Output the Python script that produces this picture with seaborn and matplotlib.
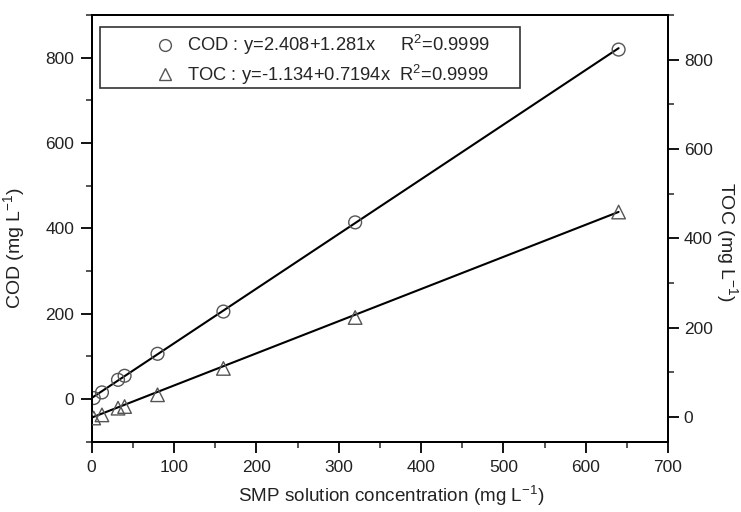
import numpy as np
import pandas as pd
import matplotlib
matplotlib.use("Agg")
import matplotlib.pyplot as plt
import seaborn as sns
from matplotlib.lines import Line2D
from matplotlib.patches import Rectangle
from matplotlib.ticker import MultipleLocator

# SMP dilution series
conc = [2.5, 12.5, 32, 40, 80, 160, 320, 640]
cod = [2.3, 15.5, 45, 54.5, 106, 205, 414, 819]
toc = [-2, 5, 20, 23.7, 50, 109, 223, 459]

# linear fits shown in the legend
cod_fit = (2.408, 1.281)
toc_fit = (-1.134, 0.7194)
fit_range = [0, 640]

cod_label = "COD : y=2.408+1.281x     R$^2$=0.9999"
toc_label = "TOC : y=-1.134+0.7194x  R$^2$=0.9999"

sns.set_style("ticks")
plt.rcParams['font.family'] = ['Liberation Sans', 'DejaVu Sans']
plt.rcParams['mathtext.fontset'] = 'custom'
plt.rcParams['mathtext.rm'] = 'Liberation Sans'
plt.rcParams['mathtext.it'] = 'Liberation Sans'
plt.rcParams['axes.unicode_minus'] = False

pts = pd.DataFrame({'conc': conc, 'cod': cod, 'toc': toc})
xf = np.array(fit_range, dtype=float)
fit = pd.DataFrame({'x': xf,
                    'cod': cod_fit[0] + cod_fit[1] * xf,
                    'toc': toc_fit[0] + toc_fit[1] * xf})

fig = plt.figure(figsize=(7.41, 5.12), dpi=100)
ax = fig.add_axes([0.1237, 0.1373, 0.7778, 0.8334])
ax2 = ax.twinx()

mk_col = '#555555'
sns.lineplot(data=fit, x='x', y='cod', ax=ax, color='black', lw=1.5, zorder=2)
sns.scatterplot(data=pts, x='conc', y='cod', ax=ax, marker='o', s=85,
                facecolor='none', edgecolor=mk_col, linewidth=1.0, zorder=3)
sns.lineplot(data=fit, x='x', y='toc', ax=ax2, color='black', lw=1.5, zorder=2)
sns.scatterplot(data=pts, x='conc', y='toc', ax=ax2, marker='^', s=95,
                facecolor='none', edgecolor=mk_col, linewidth=1.0, zorder=3)

ax.set_xlim(0, 700)
ax.set_ylim(-100, 900)
ax2.set_ylim(-55, 900)

ax.xaxis.set_major_locator(MultipleLocator(100))
ax.xaxis.set_minor_locator(MultipleLocator(50))
ax.yaxis.set_major_locator(MultipleLocator(200))
ax.yaxis.set_minor_locator(MultipleLocator(100))
ax2.yaxis.set_major_locator(MultipleLocator(200))
ax2.yaxis.set_minor_locator(MultipleLocator(100))

for a in (ax, ax2):
    for sp in a.spines.values():
        sp.set_linewidth(1.4)
        sp.set_color('black')
    a.tick_params(which='major', length=8, width=1.3, labelsize=12.5,
                  colors='black', labelcolor='#222222')
    a.tick_params(which='minor', length=4, width=1.1)
ax.tick_params(axis='y', pad=4.5)
ax.tick_params(axis='x', pad=5)
ax2.tick_params(axis='y', pad=3.4)

ax.set_xlabel("SMP solution concentration (mg L$^{-1}$)", fontsize=13.6, color='#222222')
ax.set_ylabel("COD (mg L$^{-1}$)", fontsize=14, color='#222222')
ax2.set_ylabel("TOC (mg L$^{-1}$)", fontsize=14, color='#222222', rotation=-90,
               va='center')
ax.xaxis.set_label_coords(0.52, -0.10)
ax.yaxis.set_label_coords(-0.112, 0.454)
ax2.yaxis.set_label_coords(1.102, 0.469)

handles = [Line2D([], [], ls='none', marker='o', ms=8.5, mfc='none', mec=mk_col, mew=1.0),
           Line2D([], [], ls='none', marker='^', ms=9, mfc='none', mec=mk_col, mew=1.0)]
ax2.legend(handles, [cod_label, toc_label], loc='upper left',
           bbox_to_anchor=(0.111, 0.958), borderaxespad=0, borderpad=0,
           frameon=False, fontsize=13.2, handlelength=1.0, handletextpad=0.7,
           labelspacing=0.3)
ax2.add_patch(Rectangle((0.0144, 0.829), 0.729, 0.143, transform=ax2.transAxes,
                        fill=False, edgecolor='#333333', lw=1.2, zorder=5))

plt.savefig('out.png', dpi=100)
